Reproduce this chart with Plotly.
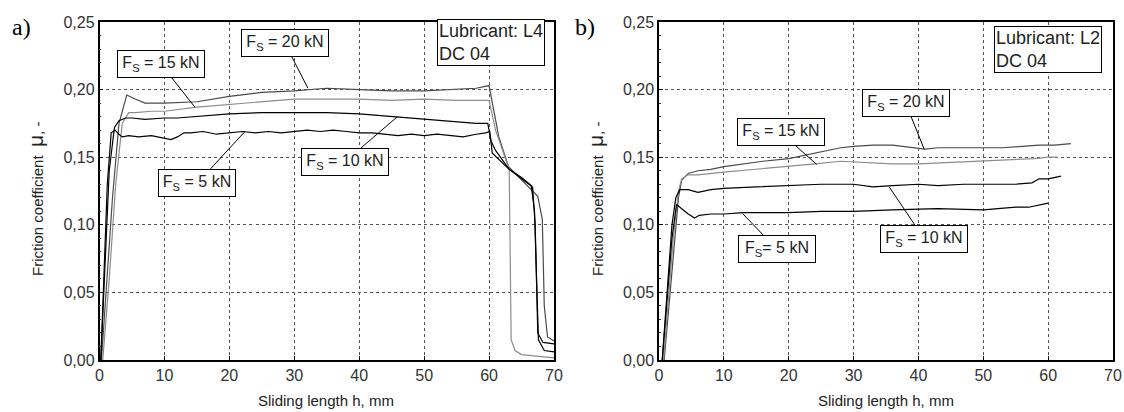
import plotly.graph_objects as go

# ---------------- data: panel a (Lubricant L4) ----------------
x_a20 = [0.3, 1.0, 2.0, 3.0, 4.2, 5.5, 7, 10, 15, 20, 25, 30, 35, 40, 45, 50, 55, 58, 60, 60.5, 61.5, 63, 65, 67.5, 68.2, 68.5, 69, 70]
mu_a20 = [0.0, 0.05, 0.12, 0.175, 0.196, 0.193, 0.190, 0.190, 0.191, 0.195, 0.198, 0.199, 0.201, 0.200, 0.199, 0.199, 0.200, 0.201, 0.203, 0.19, 0.165, 0.143, 0.133, 0.121, 0.104, 0.04, 0.017, 0.014]

x_a15 = [0.5, 1.5, 2.5, 3.5, 4.5, 5.5, 8, 10, 15, 20, 25, 30, 35, 40, 45, 50, 55, 58, 60, 61, 62.5, 63.1, 63.2, 63.4, 64, 65, 67, 70]
mu_a15 = [0.0, 0.06, 0.13, 0.175, 0.183, 0.183, 0.184, 0.184, 0.187, 0.189, 0.191, 0.193, 0.193, 0.193, 0.192, 0.193, 0.192, 0.192, 0.192, 0.170, 0.150, 0.141, 0.10, 0.015, 0.007, 0.004, 0.003, 0.0015]

x_a10 = [0.2, 0.8, 1.5, 2.3, 3, 4, 5, 7, 10, 12, 15, 20, 25, 30, 35, 40, 45, 50, 55, 58, 59.8, 60.3, 61, 63.1, 65, 66.5, 67, 67.3, 67.6, 68.5, 70]
mu_a10 = [0.0, 0.07, 0.14, 0.172, 0.177, 0.179, 0.179, 0.178, 0.179, 0.179, 0.180, 0.182, 0.183, 0.183, 0.183, 0.182, 0.180, 0.178, 0.176, 0.175, 0.175, 0.162, 0.155, 0.141, 0.135, 0.129, 0.11, 0.06, 0.015, 0.007, 0.006]

x_a5 = [0.2, 0.6, 1.2, 1.8, 2.4, 3, 3.5, 4.5, 6, 8, 10, 11, 12, 13, 14, 16, 18, 20, 22, 24, 26, 28, 30, 32, 34, 36, 38, 40, 42, 44, 46, 48, 50, 52, 54, 56, 58, 59.5, 60.1, 60.5, 63.1, 66.7, 67.1, 67.5, 68.3, 70]
mu_a5 = [0.0, 0.05, 0.13, 0.168, 0.170, 0.167, 0.165, 0.166, 0.165, 0.166, 0.164, 0.163, 0.165, 0.168, 0.168, 0.169, 0.167, 0.168, 0.169, 0.168, 0.169, 0.168, 0.169, 0.170, 0.169, 0.170, 0.169, 0.168, 0.168, 0.167, 0.166, 0.167, 0.166, 0.167, 0.166, 0.165, 0.167, 0.168, 0.169, 0.153, 0.141, 0.128, 0.10, 0.02, 0.013, 0.012]

# ---------------- data: panel b (Lubricant L2) ----------------
x_b20 = [0.8, 1.5, 2.2, 3.0, 3.5, 4.5, 6, 8, 10, 13, 16, 20, 23, 26, 28, 30, 33, 36, 38, 41, 43, 46, 50, 53, 56, 58.6, 61, 63.5]
mu_b20 = [0.0, 0.04, 0.08, 0.12, 0.133, 0.138, 0.140, 0.141, 0.143, 0.145, 0.147, 0.149, 0.152, 0.155, 0.157, 0.158, 0.159, 0.159, 0.158, 0.156, 0.157, 0.157, 0.157, 0.157, 0.158, 0.159, 0.159, 0.160]

x_b15 = [0.7, 1.5, 2.2, 3.0, 3.5, 4.5, 6, 10, 15, 20, 24, 28, 32, 36, 40, 45, 50, 55, 58, 60, 61.5]
mu_b15 = [0.0, 0.05, 0.09, 0.125, 0.134, 0.137, 0.137, 0.139, 0.141, 0.143, 0.145, 0.147, 0.146, 0.145, 0.145, 0.146, 0.147, 0.148, 0.149, 0.150, 0.150]

x_b10 = [0.5, 1.2, 2.0, 2.6, 3.2, 4.5, 6, 8, 10, 15, 20, 25, 30, 33, 36, 40, 43, 47, 50, 55, 57.5, 58.6, 60, 62]
mu_b10 = [0.0, 0.05, 0.10, 0.12, 0.126, 0.126, 0.124, 0.126, 0.127, 0.128, 0.129, 0.130, 0.130, 0.128, 0.129, 0.130, 0.129, 0.130, 0.130, 0.130, 0.131, 0.134, 0.134, 0.136]

x_b5 = [0.5, 1.3, 2.0, 2.7, 3.5, 4.5, 5.5, 6.2, 8, 10, 13, 16, 20, 25, 30, 36, 43, 50, 55, 57, 59, 60]
mu_b5 = [0.0, 0.05, 0.09, 0.115, 0.112, 0.108, 0.105, 0.107, 0.108, 0.108, 0.109, 0.109, 0.109, 0.110, 0.110, 0.111, 0.112, 0.111, 0.113, 0.113, 0.115, 0.116]

x_ticks = [0, 10, 20, 30, 40, 50, 60, 70]
y_ticks = [0.0, 0.05, 0.10, 0.15, 0.20, 0.25]
y_ticktext = ["0,00", "0,05", "0,10", "0,15", "0,20", "0,25"]

# full-window figure; body margin removed by a small post script
W, H = 1124, 412

def px(xp):
    return xp / W

def py(yp):
    return 1 - yp / H

FONT = "Liberation Sans, Arial, sans-serif"
C_DARK = "#4a4a4a"
C_LIGHT = "#8c8c8c"
C_BLACK = "#000000"

fig = go.Figure()

def add(x, y, color, xa, ya):
    fig.add_trace(go.Scatter(x=x, y=y, mode="lines", xaxis=xa, yaxis=ya,
                             line=dict(color=color, width=1.2), showlegend=False,
                             hoverinfo="skip"))

add(x_a20, mu_a20, C_DARK, "x", "y")
add(x_a15, mu_a15, C_LIGHT, "x", "y")
add(x_a10, mu_a10, C_BLACK, "x", "y")
add(x_a5, mu_a5, C_BLACK, "x", "y")
add(x_b20, mu_b20, C_DARK, "x2", "y2")
add(x_b15, mu_b15, C_LIGHT, "x2", "y2")
add(x_b10, mu_b10, C_BLACK, "x2", "y2")
add(x_b5, mu_b5, C_BLACK, "x2", "y2")

def xaxis(domain, anchor):
    return dict(domain=domain, anchor=anchor, range=[0, 70], tickvals=x_ticks,
                ticktext=[str(v) for v in x_ticks], showgrid=True, gridcolor="#555",
                griddash="dot", gridwidth=1, showline=True, linecolor="black",
                linewidth=1.5, mirror=True, ticks="inside", ticklen=4,
                tickcolor="black", zeroline=False, automargin=False,
                tickfont=dict(family=FONT, size=16, color="#333"))

def yaxis(anchor):
    return dict(domain=[py(360), py(22)], anchor=anchor, range=[0, 0.25], tickvals=y_ticks,
                ticktext=y_ticktext, showgrid=True, gridcolor="#555", griddash="dot",
                gridwidth=1, showline=True, linecolor="black", linewidth=1.5,
                mirror=True, ticks="inside", ticklen=4, tickcolor="black",
                zeroline=False, automargin=False,
                minor=dict(dtick=0.01, ticks="inside", ticklen=2,
                           tickcolor="#333", showgrid=False),
                tickfont=dict(family=FONT, size=16, color="#333"))

fig.update_layout(
    template="none",
    width=W, height=H, autosize=False, margin=dict(l=0, r=0, t=0, b=0, pad=0),
    paper_bgcolor="white", plot_bgcolor="white",
    xaxis=xaxis([px(99.5), px(554)], "y"),
    yaxis=yaxis("x"),
    xaxis2=xaxis([px(659), px(1113)], "y2"),
    yaxis2=yaxis("x2"),
)

ann = []
SERIF = "Liberation Serif, Times New Roman, serif"
# panel letters
for t, xp in (("a)", 21), ("b)", 585)):
    ann.append(dict(text=t, x=px(xp), y=py(27), xref="paper", yref="paper",
                    xanchor="center", yanchor="middle", showarrow=False,
                    font=dict(family=SERIF, size=24, color="black")))

# axis titles
ytitle = "Friction coefficient  <span style='font-size:21px'>μ</span>, -"
for xp in (35, 595):
    ann.append(dict(text=ytitle, x=px(xp), y=py(199), xref="paper", yref="paper",
                    xanchor="center", yanchor="middle", showarrow=False, textangle=-90,
                    font=dict(family=FONT, size=15, color="#222")))
for xp in (326, 886):
    ann.append(dict(text="Sliding length h, mm", x=px(xp), y=py(400), xref="paper",
                    yref="paper", xanchor="center", yanchor="middle", showarrow=False,
                    font=dict(family=FONT, size=15, color="#222")))

# lubricant boxes
for t, xp, yp in (("Lubricant: L4<br>DC 04", 437, 19), ("Lubricant: L2<br>DC 04", 994, 26)):
    ann.append(dict(text=t, x=px(xp), y=py(yp), xref="paper", yref="paper",
                    xanchor="left", yanchor="top", align="left", showarrow=False,
                    bgcolor="white", bordercolor="black", borderwidth=1, borderpad=1,
                    font=dict(family=FONT, size=18, color="#222")))

# force labels with pointers: (text, x, y, ax, ay, xref, yref)
labels = [
    ("F<sub>S</sub> = 15 kN", 14.7, 0.187, -34, -43, "x", "y"),
    ("F<sub>S</sub> = 20 kN", 32.1, 0.201, -23, -45, "x", "y"),
    ("F<sub>S</sub> = 5 kN", 22.4, 0.169, -47.5, 51.5, "x", "y"),
    ("F<sub>S</sub> = 10 kN", 45.9, 0.180, -52.5, 45, "x", "y"),
    ("F<sub>S</sub> = 15 kN", 24.3, 0.1447, -36, -32, "x2", "y2"),
    ("F<sub>S</sub> = 20 kN", 40.9, 0.1558, -18.5, -46, "x2", "y2"),
    ("F<sub>S</sub>= 5 kN", 12.9, 0.1083, 34, 35.5, "x2", "y2"),
    ("F<sub>S</sub> = 10 kN", 35.5, 0.128, 35, 52, "x2", "y2"),
]
for t, x, y, ax, ay, xr, yr in labels:
    w = 72 if ("5 kN" in t and "15" not in t) else 82
    ann.append(dict(text=t, x=x, y=y, xref=xr, yref=yr, ax=ax, ay=ay,
                    showarrow=True, arrowhead=0, arrowwidth=1, arrowcolor="black",
                    bgcolor="white", bordercolor="black", borderwidth=1, borderpad=2,
                    width=w, height=22,
                    font=dict(family=FONT, size=16, color="#222")))

fig.update_layout(annotations=ann)
fig.write_html("out.html", config={"displayModeBar": False},
               post_script="document.body.style.margin='0';document.body.style.overflow='hidden';")
